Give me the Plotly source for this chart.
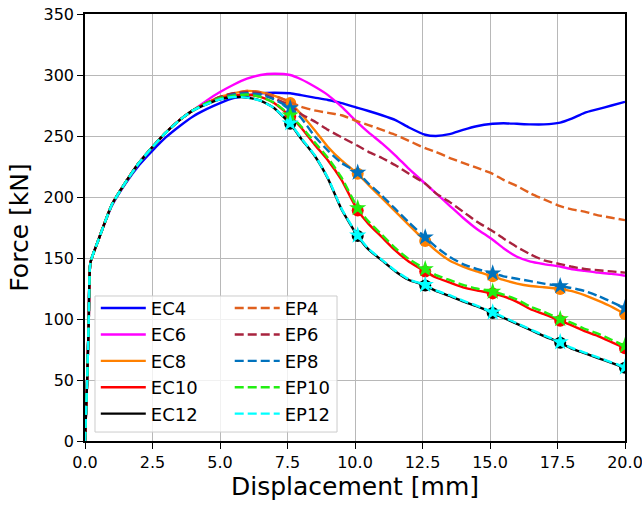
import plotly.graph_objects as go

# Displacement grid [mm]
X = [0, 0.08, 0.14, 0.2, 0.5, 1.0, 1.5, 2.0, 2.5, 3.0, 3.5, 4.0, 4.5, 5.0, 5.5, 6.0, 6.5, 7.0,
     7.6, 8.0, 8.5, 9.0, 9.5, 10.1, 10.5, 11.0, 11.5, 12.0, 12.6, 13.0, 13.5, 14.0, 14.5,
     15.1, 15.5, 16.0, 16.5, 17.0, 17.6, 18.0, 18.5, 19.0, 19.5, 20.0]

RISE = [0, 50, 100, 146, 165, 194, 212, 228, 241, 253, 263, 271]

EC4 = [0, 50, 100, 146, 165, 193, 211, 226, 238, 249, 258, 266, 272, 277, 281, 283, 285, 285.5,
       285, 283.5, 281.5, 279.5, 277, 273, 270.5, 267, 263, 257, 251, 250, 251.5, 255, 258,
       260, 260.5, 260, 259.5, 259.5, 261, 264, 269, 272, 275, 278]
EC6 = RISE + [279, 286, 292, 297, 300, 301,
              300, 296.5, 290.5, 283.5, 274, 261, 253, 244, 234, 223, 211, 203, 193, 183, 174,
              165, 158, 151, 147, 145, 143, 141, 139.5, 138, 137, 135.5]
EC8 = RISE + [277, 282, 285, 287, 286, 283,
              277, 268, 255, 241, 230, 219, 210, 199, 188, 177, 164, 156, 148, 143, 139,
              135, 132, 129, 127, 126, 124.5, 123, 119.5, 115, 110, 104]
EC10 = RISE + [277, 281, 283, 284, 282, 277,
               266, 257, 243, 230, 214, 189, 178, 167, 156, 147, 139, 134, 130, 126, 123.5,
               121, 118.5, 114, 108, 104, 98.5, 95, 90, 86, 81, 76]
EC12 = RISE + [276, 280, 282, 281.5, 279, 273,
               260, 248, 234, 215, 190, 168, 157, 148, 139, 132, 127.5, 123, 119, 114.5, 110.5,
               105, 101, 96, 91, 86, 80.5, 76, 72, 68, 64, 60]
EP4 = RISE + [277, 282, 285, 287, 286, 283,
              278, 274, 271, 269, 267, 262, 259, 255, 251, 246, 240, 237, 232, 228, 224,
              219, 214, 209, 203, 198, 192.5, 190, 188, 185, 183, 181]
EP6 = RISE + [277, 282, 285, 286, 285, 281,
              275, 268, 262, 255, 249, 242, 237, 232, 226, 219, 211, 203, 196, 188, 180,
              172, 166, 159, 153, 148, 145, 143, 141, 140, 139, 138]
EP8 = RISE + [277, 281, 284, 285, 284, 280,
              273, 265, 250, 238, 228, 220, 211, 201, 190, 179, 167, 159, 151, 145, 141,
              137.5, 135, 133, 131, 129, 127, 125.5, 123, 119, 114, 109]
EP10 = RISE + [277, 281, 283, 284, 282, 277.5,
               267, 258, 245, 232, 216, 191, 180, 169, 158, 149, 141, 136, 132, 128, 125,
               122.5, 120, 116, 110, 106, 100, 97, 92, 88, 83, 78]
EP12 = RISE + [276, 280, 282, 281.5, 279, 273,
               260.5, 248.5, 234.5, 215.5, 190.5, 168.5, 157.5, 148.5, 139.5, 132.5, 128,
               123.5, 119.5, 115, 111, 105.5, 101.5, 96.5, 91.5, 86.5, 81, 76.5, 72.5, 68.5,
               64.5, 60.5]

MARK_IDX = [18, 23, 28, 33, 38, 43]

NAMES_EC = ["EC4", "EC6", "EC8", "EC10", "EC12"]
NAMES_EP = ["EP4", "EP6", "EP8", "EP10", "EP12"]
DATA_EC = [EC4, EC6, EC8, EC10, EC12]
DATA_EP = [EP4, EP6, EP8, EP10, EP12]
COL_EC = ["#0000ff", "#ff00ff", "#ff8000", "#ff0000", "#000000"]
COL_EP = ["#e0601e", "#a8233e", "#0072bd", "#22ee11", "#00ffff"]

fig = go.Figure()

for i, (n, y, c) in enumerate(zip(NAMES_EC, DATA_EC, COL_EC)):
    fig.add_trace(go.Scatter(x=X, y=y, name=n, mode="lines",
                             line=dict(color=c, width=2.4, shape="spline", smoothing=0.5),
                             legend="legend"))
    if i >= 2:
        fig.add_trace(go.Scatter(x=[X[k] for k in MARK_IDX], y=[y[k] for k in MARK_IDX],
                                 mode="markers", showlegend=False, hoverinfo="skip",
                                 marker=dict(symbol="circle", size=12, color=c)))

for i, (n, y, c) in enumerate(zip(NAMES_EP, DATA_EP, COL_EP)):
    fig.add_trace(go.Scatter(x=X, y=y, name=n, mode="lines",
                             line=dict(color=c, width=2.4, dash="9px,4px",
                                       shape="spline", smoothing=0.5),
                             legend="legend2"))
    if i >= 2:
        fig.add_trace(go.Scatter(x=[X[k] for k in MARK_IDX], y=[y[k] for k in MARK_IDX],
                                 mode="markers", showlegend=False, hoverinfo="skip",
                                 marker=dict(symbol="star", size=13, color=c)))

FONT = "DejaVu Sans"
axis_common = dict(showline=True, linecolor="black", linewidth=1.5, mirror=True,
                   showgrid=True, gridcolor="#b8b8b8", gridwidth=1, zeroline=False,
                   ticks="outside", ticklen=6, tickwidth=1.2, tickcolor="black",
                   automargin=False, ticklabeloverflow="allow",
                   tickfont=dict(family=FONT, size=16, color="black"))

fig.update_layout(
    width=642, height=505,
    margin=dict(l=85, r=17, t=14, b=64),
    paper_bgcolor="white", plot_bgcolor="white",
    font=dict(family=FONT, color="black"),
    xaxis=dict(range=[0, 20.0001], tickvals=[0, 2.5, 5, 7.5, 10, 12.5, 15, 17.5, 20],
               ticktext=["0.0", "2.5", "5.0", "7.5", "10.0", "12.5", "15.0", "17.5", "20.0"],
               title=dict(text="Displacement [mm]", font=dict(family=FONT, size=25), standoff=3),
               **axis_common),
    yaxis=dict(range=[0, 350], tickvals=[0, 50, 100, 150, 200, 250, 300, 350],
               title=dict(text="Force [kN]", font=dict(family=FONT, size=25), standoff=8),
               **axis_common),
    legend=dict(x=0.02, y=0.354, xanchor="left", yanchor="top", bgcolor="rgba(0,0,0,0)",
                borderwidth=0, font=dict(family=FONT, size=18), tracegroupgap=0,
                itemwidth=45),
    legend2=dict(x=0.268, y=0.354, xanchor="left", yanchor="top", bgcolor="rgba(0,0,0,0)",
                 borderwidth=0, font=dict(family=FONT, size=18), tracegroupgap=0,
                 itemwidth=45),
    shapes=[dict(type="rect", xref="paper", yref="paper", x0=0.0185, x1=0.4667,
                 y0=0.021, y1=0.3396, layer="above",
                 fillcolor="rgba(255,255,255,0.8)", line=dict(color="#cccccc", width=1))],
    showlegend=True,
)

fig.write_html("out.html")
